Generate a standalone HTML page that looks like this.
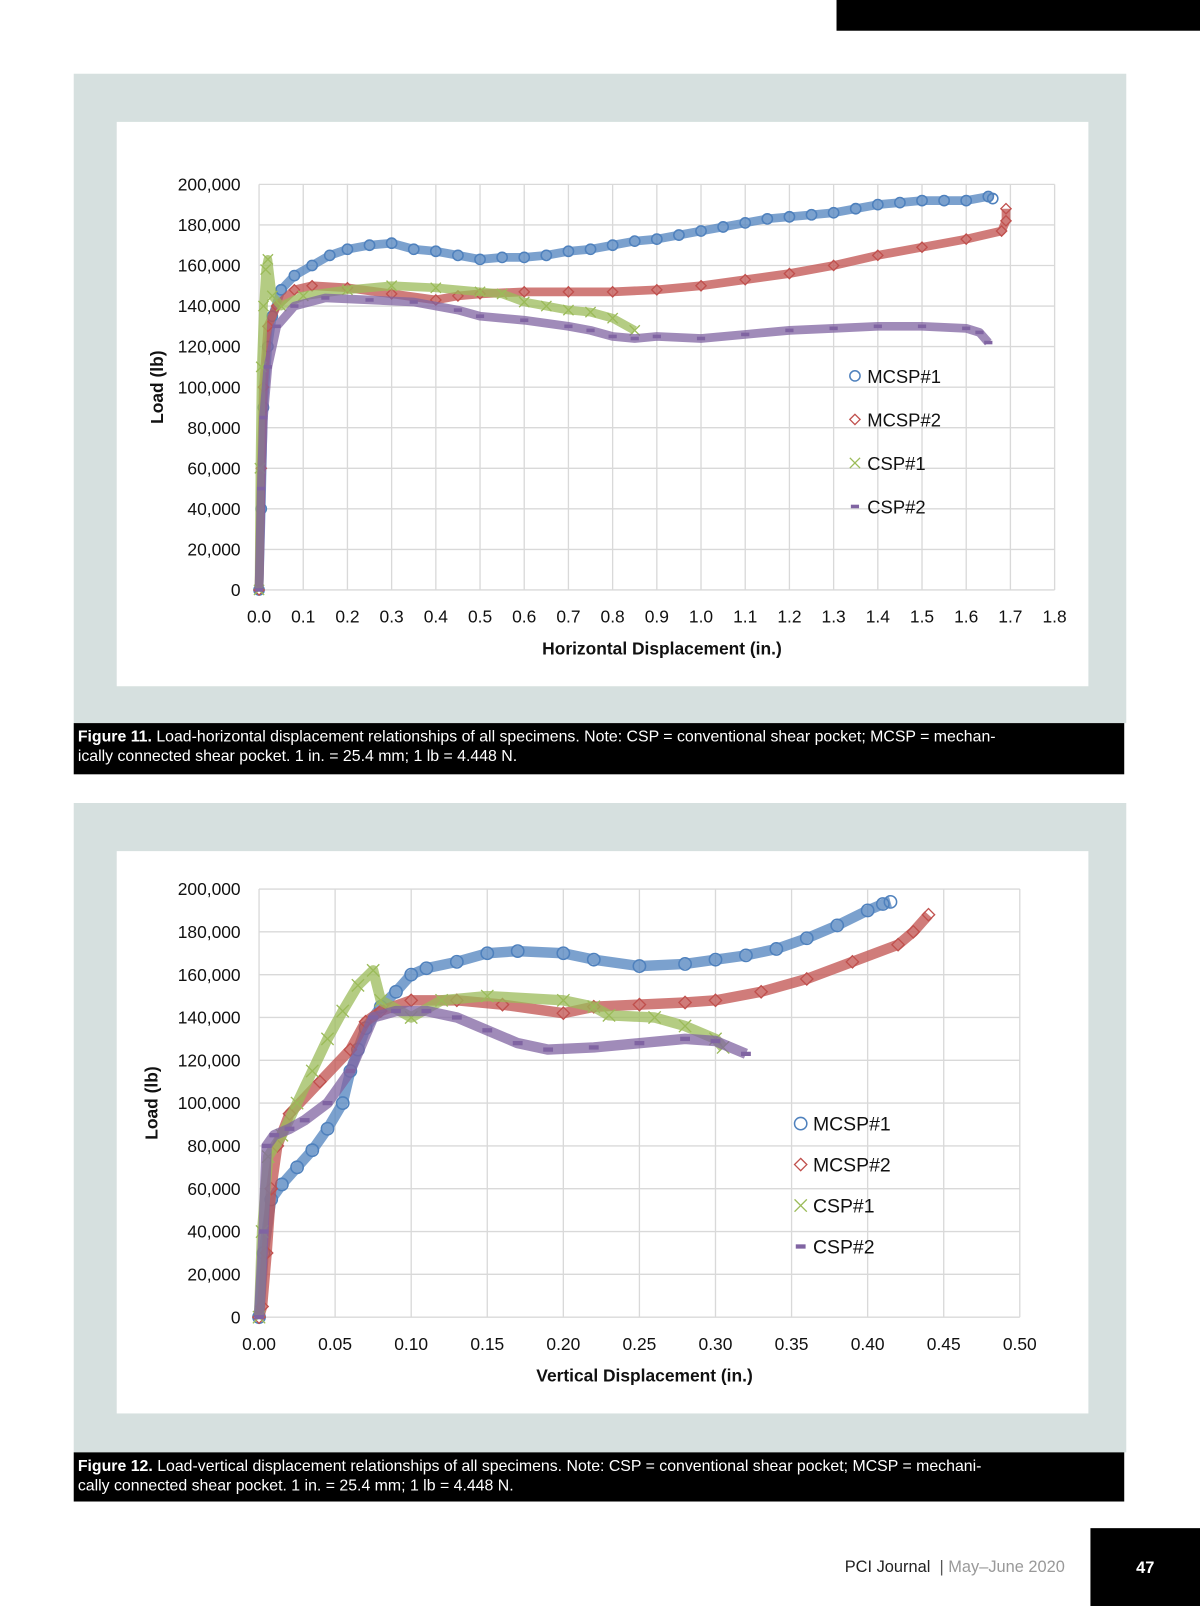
<!DOCTYPE html>
<html><head><meta charset="utf-8">
<style>
html,body{margin:0;padding:0;background:#fff;overflow:hidden;width:1200px;height:1606px}
#wrap{position:absolute;left:0;top:0;width:1172px;height:1568px;transform-origin:0 0;transform:scale(1.02389,1.02423);font-family:"Liberation Sans",sans-serif}
.panel{position:absolute;left:72px;width:1028px;height:634px;background:#d6e0df}
.inner{position:absolute;left:42px;width:949px;background:#fff}
.cap{position:absolute;left:72px;width:1016px;background:#000;color:#fff;font-size:15.5px;line-height:19px;padding:4px 6px 0 4px;white-space:nowrap}
svg text{font-family:"Liberation Sans",sans-serif}
</style></head><body>
<div id="wrap">
<div style="position:absolute;left:817px;top:0;width:355px;height:30px;background:#000"></div>
<div class="panel" style="top:72px"><div class="inner" style="top:47px;height:551px"></div></div>
<div class="cap" style="top:706px;height:46px"><b>Figure 11.</b> Load-horizontal displacement relationships of all specimens. Note: CSP = conventional shear pocket; MCSP = mechan-<br>ically connected shear pocket. 1 in. = 25.4 mm; 1 lb = 4.448 N.</div>
<div class="panel" style="top:784px"><div class="inner" style="top:47px;height:549px"></div></div>
<div class="cap" style="top:1418px;height:44px"><b>Figure 12.</b> Load-vertical displacement relationships of all specimens. Note: CSP = conventional shear pocket; MCSP = mechani-<br>cally connected shear pocket. 1 in. = 25.4 mm; 1 lb = 4.448 N.</div>
<div style="position:absolute;left:700px;width:340px;text-align:right;top:1522px;font-size:16px;color:#222">PCI Journal &nbsp;<span style="color:#555">|</span> <span style="color:#999">May–June 2020</span></div>
<div style="position:absolute;left:1065px;top:1492px;width:107px;height:76px;background:#000;color:#fff;font-weight:bold;font-size:16px;line-height:80px;text-align:center">47</div>
<svg id="svg" width="1172" height="1568" style="position:absolute;left:0;top:0"></svg>
</div>
<script>
const yTicks=[0,20000,40000,60000,80000,100000,120000,140000,160000,180000,200000];
const x1Ticks=[0,0.1,0.2,0.3,0.4,0.5,0.6,0.7,0.8,0.9,1.0,1.1,1.2,1.3,1.4,1.5,1.6,1.7,1.8];
const x2Ticks=[0,0.05,0.10,0.15,0.20,0.25,0.30,0.35,0.40,0.45,0.50];
const seriesNames=["MCSP#1","MCSP#2","CSP#1","CSP#2"];
const h_mcsp1=[[0,0],[0.005,40],[0.01,90],[0.02,120],[0.03,135],[0.05,148],[0.08,155],[0.12,160],[0.16,165],[0.2,168],[0.25,170],[0.3,171],[0.35,168],[0.4,167],[0.45,165],[0.5,163],[0.55,164],[0.6,164],[0.65,165],[0.7,167],[0.75,168],[0.8,170],[0.85,172],[0.9,173],[0.95,175],[1.0,177],[1.05,179],[1.1,181],[1.15,183],[1.2,184],[1.25,185],[1.3,186],[1.35,188],[1.4,190],[1.45,191],[1.5,192],[1.55,192],[1.6,192],[1.65,194],[1.66,193]];
const h_mcsp2=[[0,0],[0.005,60],[0.01,100],[0.02,130],[0.04,140],[0.08,148],[0.12,150],[0.2,149],[0.3,146],[0.4,143],[0.45,145],[0.5,146],[0.6,147],[0.7,147],[0.8,147],[0.9,148],[1.0,150],[1.1,153],[1.2,156],[1.3,160],[1.4,165],[1.5,169],[1.6,173],[1.68,177],[1.69,182],[1.69,188]];
const h_csp1=[[0,0],[0.002,60],[0.005,110],[0.01,140],[0.015,158],[0.02,163],[0.03,145],[0.05,140],[0.1,145],[0.2,148],[0.3,150],[0.4,149],[0.5,147],[0.55,146],[0.6,142],[0.65,140],[0.7,138],[0.75,137],[0.8,134],[0.85,128]];
const h_csp2=[[0,0],[0.005,50],[0.01,85],[0.02,110],[0.04,130],[0.08,140],[0.15,144],[0.25,143],[0.35,142],[0.45,138],[0.5,135],[0.6,133],[0.7,130],[0.75,128],[0.8,125],[0.85,124],[0.9,125],[1.0,124],[1.1,126],[1.2,128],[1.3,129],[1.4,130],[1.5,130],[1.6,129],[1.63,127],[1.65,122]];
const v_mcsp1=[[0,0],[0.003,30],[0.008,55],[0.015,62],[0.025,70],[0.035,78],[0.045,88],[0.055,100],[0.06,115],[0.065,125],[0.07,135],[0.08,145],[0.09,152],[0.1,160],[0.11,163],[0.13,166],[0.15,170],[0.17,171],[0.2,170],[0.22,167],[0.25,164],[0.28,165],[0.3,167],[0.32,169],[0.34,172],[0.36,177],[0.38,183],[0.4,190],[0.41,193],[0.415,194]];
const v_mcsp2=[[0,0],[0.002,5],[0.005,30],[0.008,60],[0.012,80],[0.02,95],[0.04,110],[0.06,125],[0.07,138],[0.08,143],[0.1,148],[0.13,148],[0.16,146],[0.2,142],[0.22,145],[0.25,146],[0.28,147],[0.3,148],[0.33,152],[0.36,158],[0.39,166],[0.42,174],[0.43,180],[0.44,188]];
const v_csp1=[[0,0],[0.002,40],[0.006,75],[0.015,85],[0.025,100],[0.035,115],[0.045,130],[0.055,143],[0.065,155],[0.075,162],[0.08,148],[0.1,140],[0.12,148],[0.15,150],[0.2,148],[0.22,145],[0.23,141],[0.26,140],[0.28,136],[0.3,130],[0.305,126]];
const v_csp2=[[0,0],[0.003,40],[0.005,80],[0.01,85],[0.02,88],[0.03,92],[0.045,100],[0.06,115],[0.075,140],[0.09,143],[0.11,143],[0.13,140],[0.15,134],[0.17,128],[0.19,125],[0.22,126],[0.25,128],[0.28,130],[0.3,129],[0.32,123]];

const colors=["#4f81bd","#c0504d","#9bbb59","#8064a2"];
const svg=document.getElementById('svg');const NS="http://www.w3.org/2000/svg";
function mk(t,a,p){const e=document.createElementNS(NS,t);for(const k in a)e.setAttribute(k,a[k]);(p||svg).appendChild(e);return e;}
function marker(g,i,x,y,s){
  let e;
  if(i===0)e=mk('circle',{cx:x,cy:y,r:s,fill:'none',stroke:colors[0],'stroke-width':1.5},g);
  else if(i===1)e=mk('path',{d:`M${x},${y-s}L${x+s},${y}L${x},${y+s}L${x-s},${y}Z`,fill:'none',stroke:colors[1],'stroke-width':1.3},g);
  else if(i===2)e=mk('path',{d:`M${x-s},${y-s}L${x+s},${y+s}M${x+s},${y-s}L${x-s},${y+s}`,stroke:colors[2],'stroke-width':1.3},g);
  else e=mk('rect',{x:x-s*0.8,y:y-s*0.35,width:s*1.6,height:s*0.7,fill:colors[3]},g);
  return e;
}
function chart(cfg){
  const {L,R,T,B,xmax,xTicks,dec,series,title,ms,ytx,leg,prefix}=cfg;
  const sx=v=>L+v/xmax*(R-L), sy=v=>B-v/200000*(B-T);
  const g=mk('g',{});
  
  
  yTicks.forEach(t=>{mk('line',{x1:L,x2:R,y1:sy(t),y2:sy(t),stroke:'#d9d9d9','stroke-width':1.3},g);
    const tx=mk('text',{x:L-18,y:sy(t)+6,'text-anchor':'end','font-size':17,fill:'#111'},g);tx.textContent=t.toLocaleString('en-US');
    });
  xTicks.forEach(t=>{mk('line',{x1:sx(t),x2:sx(t),y1:T,y2:B,stroke:'#d9d9d9','stroke-width':1.3},g);
    const tx=mk('text',{x:sx(t),y:B+32,'text-anchor':'middle','font-size':17,fill:'#111'},g);tx.textContent=t.toFixed(dec);
    });
  const xt=mk('text',{x:(L+R)/2+5,y:B+63,'text-anchor':'middle','font-size':17,'font-weight':'bold',fill:'#111'},g);xt.textContent=title;
  
  const yt=mk('text',{x:0,y:0,'text-anchor':'middle','font-size':17,'font-weight':'bold',fill:'#111',transform:`translate(${ytx},${(T+B)/2}) rotate(-90)`},g);yt.textContent="Load (lb)";
  
  series.forEach((d,i)=>{
    const sg=mk('g',{},g);
    
    
    const pts=d.map(p=>sx(p[0])+','+sy(p[1]*1000)).join(' ');
    mk('polyline',{points:pts,fill:'none',stroke:colors[i],'stroke-width':ms*1.7,'stroke-opacity':0.75,'stroke-linejoin':'round'},sg);
    d.forEach(p=>marker(sg,i,sx(p[0]),sy(p[1]*1000),ms));
  });
  seriesNames.forEach((n,i)=>{
    const lg=mk('g',{},g);
    
    
    const y=leg.y0+i*leg.dy;
    marker(lg,i,leg.x,y,leg.s);
    const t=mk('text',{x:leg.x+12,y:y+7,'font-size':leg.fs,fill:'#111'},lg);t.textContent=n;
  });
}
chart({L:253,R:1030,T:180,B:576,xmax:1.8,xTicks:x1Ticks,dec:1,series:[h_mcsp1,h_mcsp2,h_csp1,h_csp2],title:"Horizontal Displacement (in.)",ms:5,ytx:159,leg:{x:835,y0:367,dy:42.5,s:5,fs:18},prefix:'figure-11'});
chart({L:253,R:996,T:868,B:1286,xmax:0.5,xTicks:x2Ticks,dec:2,series:[v_mcsp1,v_mcsp2,v_csp1,v_csp2],title:"Vertical Displacement (in.)",ms:6,ytx:154,leg:{x:782,y0:1097,dy:40,s:6,fs:19},prefix:'figure-12'});
</script>
</body></html>
